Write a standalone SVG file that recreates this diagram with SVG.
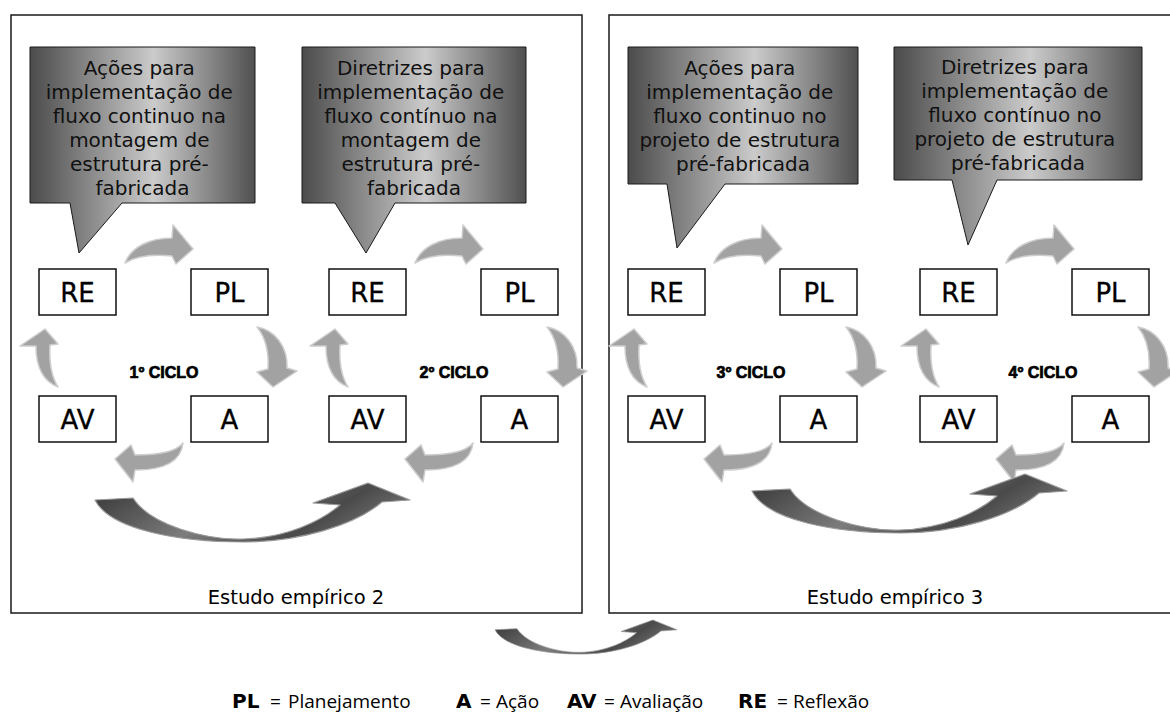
<svg xmlns="http://www.w3.org/2000/svg" xmlns:xlink="http://www.w3.org/1999/xlink" width="1170" height="715" viewBox="0 0 1170 715">
  <style>
    .frame { fill: #fff; stroke: #1a1a1a; stroke-width: 1.5; }
    .callout { fill: url(#calloutFill); stroke: #1a1a1a; stroke-width: 1; }
    .ctext { font-family: "DejaVu Sans", Verdana, sans-serif; font-size: 20px; fill: #111; text-anchor: middle; }
    .box { fill: #fff; stroke: #111; stroke-width: 1.5; }
    .btext { font-family: "DejaVu Sans", Verdana, sans-serif; font-size: 26px; fill: #000; stroke: #000; stroke-width: 0.3; text-anchor: middle; }
    .cycle { font-family: "Liberation Sans", Arial, sans-serif; font-size: 16px; font-weight: bold; fill: #000; stroke: #000; stroke-width: 0.7; text-anchor: middle; }
    .study { font-family: "DejaVu Sans", Verdana, sans-serif; font-size: 19.5px; fill: #000; text-anchor: middle; }
    .swirl { fill: #a2a2a2; stroke: #cdcdcd; stroke-width: 1.5; stroke-linejoin: round; }
    .big { fill: url(#bigFill); stroke: #9a9a9a; stroke-width: 1.2; stroke-linejoin: round; }
    .lkey { font-family: "DejaVu Sans", Verdana, sans-serif; font-size: 20px; font-weight: bold; fill: #000; }
    .lval { font-family: "Open Sans", "Liberation Sans", sans-serif; font-size: 19px; fill: #000; }
  </style>
  <defs>
    <linearGradient id="calloutFill" x1="0" y1="0" x2="1" y2="0">
      <stop offset="0" stop-color="#4b4b4b"/>
      <stop offset="0.55" stop-color="#cbcbcb"/>
      <stop offset="1" stop-color="#505050"/>
    </linearGradient>
    <linearGradient id="bigFill" x1="0" y1="0" x2="1" y2="0.3">
      <stop offset="0" stop-color="#333"/>
      <stop offset="0.5" stop-color="#7c7c7c"/>
      <stop offset="0.82" stop-color="#4a4a4a"/>
      <stop offset="1" stop-color="#6a6a6a"/>
    </linearGradient>
    <!-- the four curved arrows of one cycle: RE->PL, PL->A, A->AV, AV->RE -->
    <g id="cycleArrows">
      <path class="swirl" d="M125,263 C131,247 150,238 172,238 L173,225 L193,249 L176,264 L172,256 C152,254 136,256 125,263 Z"/>
      <path class="swirl" d="M257,327 C275,330 288,347 287,368 L297,371 L273,387 L257,372 L268,369 C269,353 266,338 257,327 Z"/>
      <path class="swirl" d="M183,443 C176,452 160,455 135,455 L131,445 L115,459 L133,482 L135,470 C163,470 181,462 183,443 Z"/>
      <path class="swirl" d="M58,387 C43,381 36,366 36,346 L20,346 L45,329 L58,344 L50,345 C49,362 51,376 58,387 Z"/>
    </g>
    <path id="bigArrow" class="big" d="M95,500 L133,498 C150,525 205,540 243,539 C285,538 320,522 340,505 L313,503 L368,483 L410,500 L382,502 C355,525 300,542 243,542 C180,542 110,530 95,500 Z"/>
  </defs>

  <rect width="1170" height="715" fill="#fff"/>

  <!-- study frames -->
  <g id="study2">
    <rect class="frame" x="11" y="15" width="571" height="598"/>
    <text class="study" x="296" y="604">Estudo empírico 2</text>
  </g>
  <g id="study3">
    <rect class="frame" x="609" y="15" width="570" height="598"/>
    <text class="study" x="895" y="604">Estudo empírico 3</text>
  </g>

  <!-- callouts -->
  <g id="callout1">
    <path class="callout" d="M30,47 H255 V203 H122 L79,253 L70,203 H30 Z"/>
    <text class="ctext">
      <tspan x="142.5" y="75">Ações para</tspan>
      <tspan x="142.5" y="99">implementação de</tspan>
      <tspan x="142.5" y="123">fluxo continuo na</tspan>
      <tspan x="142.5" y="147">montagem de</tspan>
      <tspan x="142.5" y="171">estrutura pré-</tspan>
      <tspan x="142.5" y="195">fabricada</tspan>
    </text>
  </g>
  <g id="callout2">
    <path class="callout" d="M302,47 H526 V203 H395 L366,253 L335,203 H302 Z"/>
    <text class="ctext">
      <tspan x="414" y="75">Diretrizes para</tspan>
      <tspan x="414" y="99">implementação de</tspan>
      <tspan x="414" y="123">fluxo contínuo na</tspan>
      <tspan x="414" y="147">montagem de</tspan>
      <tspan x="414" y="171">estrutura pré-</tspan>
      <tspan x="414" y="195">fabricada</tspan>
    </text>
  </g>
  <g id="callout3">
    <path class="callout" d="M628,47 H858 V184 H725 L677,248 L667,184 H628 Z"/>
    <text class="ctext">
      <tspan x="743" y="75">Ações para</tspan>
      <tspan x="743" y="99">implementação de</tspan>
      <tspan x="743" y="123">fluxo continuo no</tspan>
      <tspan x="743" y="147">projeto de estrutura</tspan>
      <tspan x="743" y="171">pré-fabricada</tspan>
    </text>
  </g>
  <g id="callout4">
    <path class="callout" d="M894,47 H1142 V180 H997 L968,245 L952,180 H894 Z"/>
    <text class="ctext">
      <tspan x="1018" y="74">Diretrizes para</tspan>
      <tspan x="1018" y="98">implementação de</tspan>
      <tspan x="1018" y="122">fluxo contínuo no</tspan>
      <tspan x="1018" y="146">projeto de estrutura</tspan>
      <tspan x="1018" y="170">pré-fabricada</tspan>
    </text>
  </g>

  <!-- connectors -->
  <g id="connectors">
    <use href="#cycleArrows" xlink:href="#cycleArrows"/>
    <use href="#cycleArrows" xlink:href="#cycleArrows" transform="translate(290,0)"/>
    <use href="#cycleArrows" xlink:href="#cycleArrows" transform="translate(589,0)"/>
    <use href="#cycleArrows" xlink:href="#cycleArrows" transform="translate(881,0)"/>
    <use href="#bigArrow" xlink:href="#bigArrow"/>
    <use href="#bigArrow" xlink:href="#bigArrow" transform="translate(657,-9)"/>
    <use href="#bigArrow" xlink:href="#bigArrow" transform="translate(440.1,340.8) scale(0.578)"/>
  </g>

  <!-- cycle 1 -->
  <g id="c1-RE"><rect class="box" x="39" y="269" width="77" height="46"/><text class="btext" x="77.5" y="302">RE</text></g>
  <g id="c1-PL"><rect class="box" x="191" y="269" width="77" height="46"/><text class="btext" x="229.5" y="302">PL</text></g>
  <g id="c1-AV"><rect class="box" x="39" y="396" width="77" height="46"/><text class="btext" x="77.5" y="429">AV</text></g>
  <g id="c1-A"><rect class="box" x="191" y="396" width="77" height="46"/><text class="btext" x="229.5" y="429">A</text></g>
  <g id="c1-label"><text class="cycle" x="164" y="378">1º CICLO</text></g>

  <!-- cycle 2 -->
  <g id="c2-RE"><rect class="box" x="329" y="269" width="77" height="46"/><text class="btext" x="367.5" y="302">RE</text></g>
  <g id="c2-PL"><rect class="box" x="481" y="269" width="77" height="46"/><text class="btext" x="519.5" y="302">PL</text></g>
  <g id="c2-AV"><rect class="box" x="329" y="396" width="77" height="46"/><text class="btext" x="367.5" y="429">AV</text></g>
  <g id="c2-A"><rect class="box" x="481" y="396" width="77" height="46"/><text class="btext" x="519.5" y="429">A</text></g>
  <g id="c2-label"><text class="cycle" x="454" y="378">2º CICLO</text></g>

  <!-- cycle 3 -->
  <g id="c3-RE"><rect class="box" x="628" y="269" width="77" height="46"/><text class="btext" x="666.5" y="302">RE</text></g>
  <g id="c3-PL"><rect class="box" x="780" y="269" width="77" height="46"/><text class="btext" x="818.5" y="302">PL</text></g>
  <g id="c3-AV"><rect class="box" x="628" y="396" width="77" height="46"/><text class="btext" x="666.5" y="429">AV</text></g>
  <g id="c3-A"><rect class="box" x="780" y="396" width="77" height="46"/><text class="btext" x="818.5" y="429">A</text></g>
  <g id="c3-label"><text class="cycle" x="751" y="378">3º CICLO</text></g>

  <!-- cycle 4 -->
  <g id="c4-RE"><rect class="box" x="920" y="269" width="77" height="46"/><text class="btext" x="958.5" y="302">RE</text></g>
  <g id="c4-PL"><rect class="box" x="1072" y="269" width="77" height="46"/><text class="btext" x="1110.5" y="302">PL</text></g>
  <g id="c4-AV"><rect class="box" x="920" y="396" width="77" height="46"/><text class="btext" x="958.5" y="429">AV</text></g>
  <g id="c4-A"><rect class="box" x="1072" y="396" width="77" height="46"/><text class="btext" x="1110.5" y="429">A</text></g>
  <g id="c4-label"><text class="cycle" x="1043" y="378">4º CICLO</text></g>

  <!-- legend -->
  <g id="legend">
    <text class="lkey" x="232" y="708">PL</text>
    <text class="lval" x="270" y="708">=</text>
    <text class="lval" x="288" y="708">Planejamento</text>
    <text class="lkey" x="456" y="708">A</text>
    <text class="lval" x="480" y="708">=</text>
    <text class="lval" x="496" y="708">Ação</text>
    <text class="lkey" x="567" y="708">AV</text>
    <text class="lval" x="604" y="708">=</text>
    <text class="lval" x="620" y="708">Avaliação</text>
    <text class="lkey" x="738" y="708">RE</text>
    <text class="lval" x="777" y="708">=</text>
    <text class="lval" x="793" y="708">Reflexão</text>
  </g>
</svg>
